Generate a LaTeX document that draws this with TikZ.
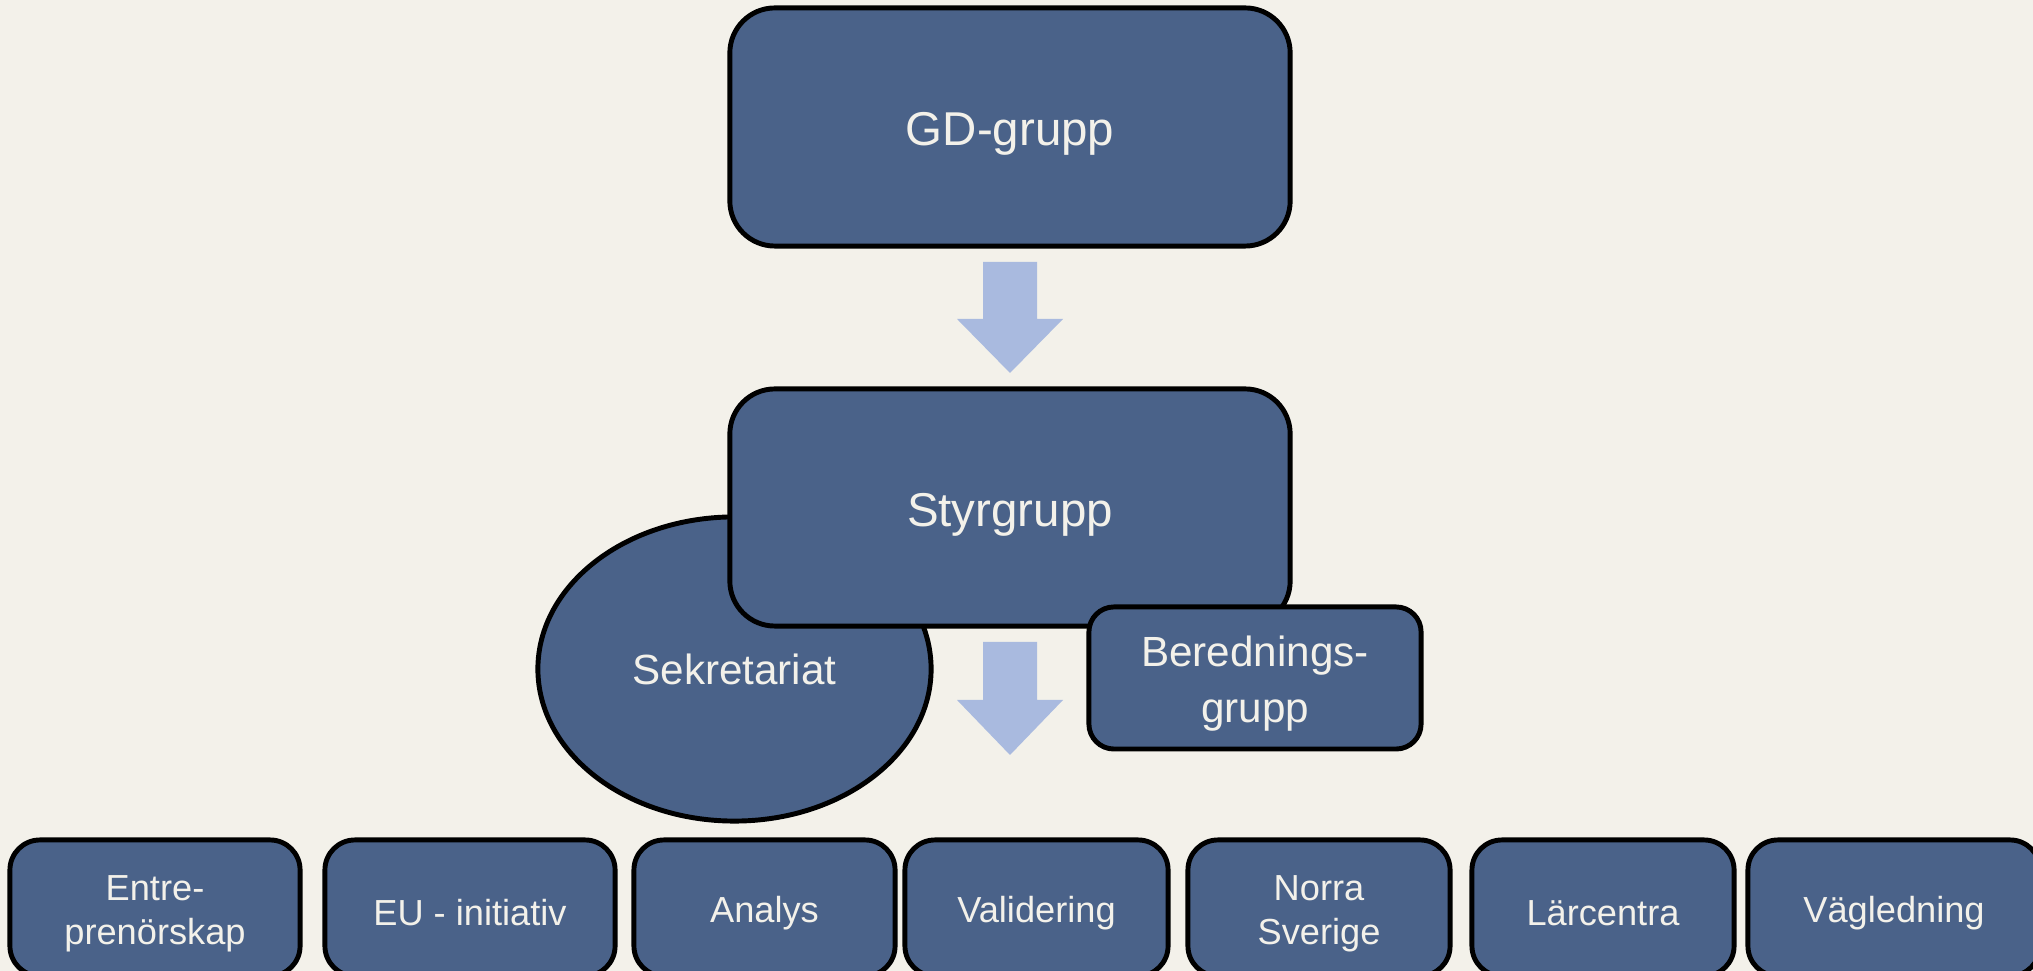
\documentclass[tikz,border=0pt]{standalone}
\usepackage{fontspec}
\setmainfont{Liberation Sans}
\usepackage{xcolor}
\usetikzlibrary{shapes.geometric, calc}
\definecolor{bgcream}{HTML}{F3F1EA}
\definecolor{boxblue}{HTML}{4A6289}
\definecolor{arrowblue}{HTML}{A9BADF}
\definecolor{textcream}{HTML}{F3F1EA}
\newcommand{\topstrut}{\rule{0pt}{1em}}
\begin{document}
\begin{tikzpicture}[
        x=0.01cm, y=-0.01cm,
        box/.style={rectangle, draw=black, line width=1.4pt, rounded corners=0.45cm, fill=boxblue, text=textcream, align=center, inner sep=0pt, font=\fontsize{13.5}{16}\selectfont},
        midbox/.style={box, rounded corners=0.25cm, font=\fontsize{12}{16}\selectfont},
        unit/.style={box, rounded corners=0.3cm, minimum height=1.36cm, font=\fontsize{10.3}{12.5}\selectfont},
        blockarrow/.style={fill=arrowblue}
    ]
        \path[use as bounding box, fill=bgcream] (0,0) rectangle (2033,971);
        \clip (0,0) rectangle (2033,971);

        % top
        \node[box, minimum width=5.6cm, minimum height=2.38cm] (gd) at (1010,127) {\topstrut GD-grupp};

        \coordinate (a1) at (1010,317.5);
        \fill[blockarrow] ($(a1)+(-27,-55.5)$) -- ($(a1)+(27,-55.5)$) -- ($(a1)+(27,1.5)$) -- ($(a1)+(53,1.5)$)
            -- ($(a1)+(0,55.5)$) -- ($(a1)+(-53,1.5)$) -- ($(a1)+(-27,1.5)$) -- cycle;

        % middle
        \node[ellipse, draw=black, line width=1.4pt, fill=boxblue, inner sep=0pt,
              minimum width=3.93cm, minimum height=3.04cm] (sekr) at (734.5,669) {};
        \node[box, minimum width=5.6cm, minimum height=2.37cm] (styr) at (1010,507.5) {\topstrut Styrgrupp};
        \node[text=textcream, font=\fontsize{12}{16}\selectfont] at (sekr) {Sekretariat};
        \node[midbox, minimum width=3.32cm, minimum height=1.42cm] (bered) at (1255,678) {\topstrut Berednings-\\grupp};

        \coordinate (a2) at (1010,698.5);
        \fill[blockarrow] ($(a2)+(-27,-56.5)$) -- ($(a2)+(27,-56.5)$) -- ($(a2)+(27,1.5)$) -- ($(a2)+(53,1.5)$)
            -- ($(a2)+(0,56.5)$) -- ($(a2)+(-53,1.5)$) -- ($(a2)+(-27,1.5)$) -- cycle;

        % bottom row
        \node[unit, minimum width=2.9cm] (entre) at (155,908) {\topstrut Entre-\\prenörskap};
        \node[unit, minimum width=2.9cm] (eu) at (470,908) {\topstrut EU - initiativ};
        \node[unit, minimum width=2.61cm] (analys) at (764.5,908) {\topstrut Analys};
        \node[unit, minimum width=2.63cm] (valid) at (1036.5,908) {\topstrut Validering};
        \node[unit, minimum width=2.62cm] (norra) at (1319,908) {\topstrut Norra\\Sverige};
        \node[unit, minimum width=2.62cm] (larc) at (1603,908) {\topstrut Lärcentra};
        \node[unit, minimum width=2.92cm] (vagl) at (1894,908) {\topstrut Vägledning};
    \end{tikzpicture}
\end{document}
